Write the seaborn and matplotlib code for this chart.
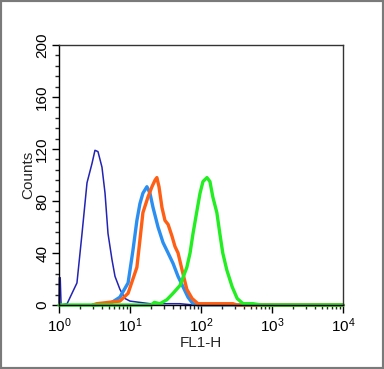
import numpy as np
import pandas as pd
import matplotlib
matplotlib.use("Agg")
import matplotlib.pyplot as plt
import seaborn as sns
from matplotlib.ticker import LogLocator, MultipleLocator, NullFormatter, FixedLocator
from matplotlib.patches import Rectangle

# ---- data ----
navy_x = [1.0, 1.01, 1.04, 1.07, 1.3, 1.79, 2.11, 2.48, 2.92, 3.21, 3.54, 4.03, 4.45, 4.9,
          5.57, 6.15, 7.22, 8.5, 10.0, 13.8, 19.1, 30.0, 50.0, 80.0, 10000.0]
navy_y = [0, 21, 21, 0, 1, 17, 55, 94, 109, 119, 118, 106, 86, 55,
          35, 22, 12, 5, 3, 2, 1, 1, 1, 0, 0]

blue_x = [3.0, 5.2, 7.2, 9.4, 11.0, 12.5, 13.8, 15.2, 17.3, 19.1, 21.1, 24.8, 29.2,
          34.4, 40.4, 47.5, 55.8, 65.6, 77.0, 90.0, 10000.0]
blue_y = [0, 1, 6, 17, 42, 65, 78, 86, 91, 86, 75, 60, 48,
          40, 32, 22, 14, 6, 1, 0, 0]

orange_x = [3.0, 3.4, 7.2, 9.4, 12.5, 13.8, 15.2, 17.9, 20.4, 22.5, 23.9, 25.6, 28.2,
            31.1, 34.4, 39.0, 43.0, 47.5, 54.1, 63.2, 74.9, 90.6, 282.0, 320.0, 10000.0]
orange_y = [0, 1, 3, 9, 29, 50, 71, 83, 91, 96, 98, 91, 75,
            65, 62, 53, 45, 40, 27, 12, 5, 1, 1, 0, 0]

green_x = [1.0, 20.0, 22.0, 26.4, 33.0, 40.4, 50.6, 63.2, 70.1, 77.2, 88.0, 96.9, 106.6,
           121.3, 133.5, 146.9, 167.3, 184.1, 202.6, 230.7, 274.7, 323.4, 391.3, 540.0,
           700.0, 10000.0]
green_y = [0, 0, 2, 1, 4, 9, 15, 29, 40, 55, 73, 86, 95,
           98, 95, 83, 71, 55, 40, 27, 14, 5, 1, 1, 0, 0]

x_ticks = [1, 10, 100, 1000, 10000]
x_ticklabels = [r"$10^0$", r"$10^1$", r"$10^2$", r"$10^3$", r"$10^4$"]
y_ticks = [0, 40, 80, 120, 160, 200]

series = [
    ("navy", navy_x, navy_y, "#2323b4", 1.1),
    ("blue", blue_x, blue_y, "#2a8ff0", 2.4),
    ("orange", orange_x, orange_y, "#ff5f14", 2.4),
    ("green", green_x, green_y, "#22ee22", 2.4),
]

sns.set_style("white")
plt.rcParams["font.family"] = ["Liberation Sans", "DejaVu Sans"]
plt.rcParams["mathtext.fontset"] = "custom"
plt.rcParams["mathtext.rm"] = "Liberation Sans"
plt.rcParams["mathtext.it"] = "Liberation Sans"

fig = plt.figure(figsize=(3.84, 3.69), dpi=100)
ax = fig.add_axes([59 / 384, 1 - 305 / 369, (343 - 59) / 384, (305 - 45) / 369])

for name, xs, ys, col, lw in series:
    df = pd.DataFrame({"FL1-H": xs, "Counts": ys})
    sns.lineplot(data=df, x="FL1-H", y="Counts", ax=ax, color=col, lw=lw,
                 estimator=None, sort=True, clip_on=False)

ax.set_xscale("log")
ax.set_xlim(1, 10000)
ax.set_ylim(0, 200)

ax.xaxis.set_major_locator(FixedLocator(x_ticks))
ax.set_xticklabels(x_ticklabels)
ax.xaxis.set_minor_locator(LogLocator(base=10, subs=np.arange(2, 10)))
ax.xaxis.set_minor_formatter(NullFormatter())
ax.yaxis.set_major_locator(FixedLocator(y_ticks))
ax.yaxis.set_minor_locator(MultipleLocator(8))

ax.tick_params(axis="both", which="major", direction="out", length=5, width=1,
               labelsize=11, colors="black", bottom=True, left=True)
ax.tick_params(axis="both", which="minor", direction="out", length=3, width=1,
               bottom=True, left=True)
ax.tick_params(axis="x", which="major", length=6, pad=2)
ax.tick_params(axis="y", which="major", pad=2)
for lab in ax.get_yticklabels():
    lab.set_rotation(90)
    lab.set_va("center")

for s in ax.spines.values():
    s.set_color("#333333")
    s.set_linewidth(1.0)
ax.spines["left"].set_color("black")
ax.spines["bottom"].set_color("black")

ax.set_xlabel("FL1-H", fontsize=11, labelpad=1)
ax.set_ylabel("Counts", fontsize=11, labelpad=0)

fig.patches.append(Rectangle((0, 0), 1, 1, transform=fig.transFigure, fill=False,
                             edgecolor="#7a7a7a", lw=3))

fig.savefig("out.png", dpi=100)
